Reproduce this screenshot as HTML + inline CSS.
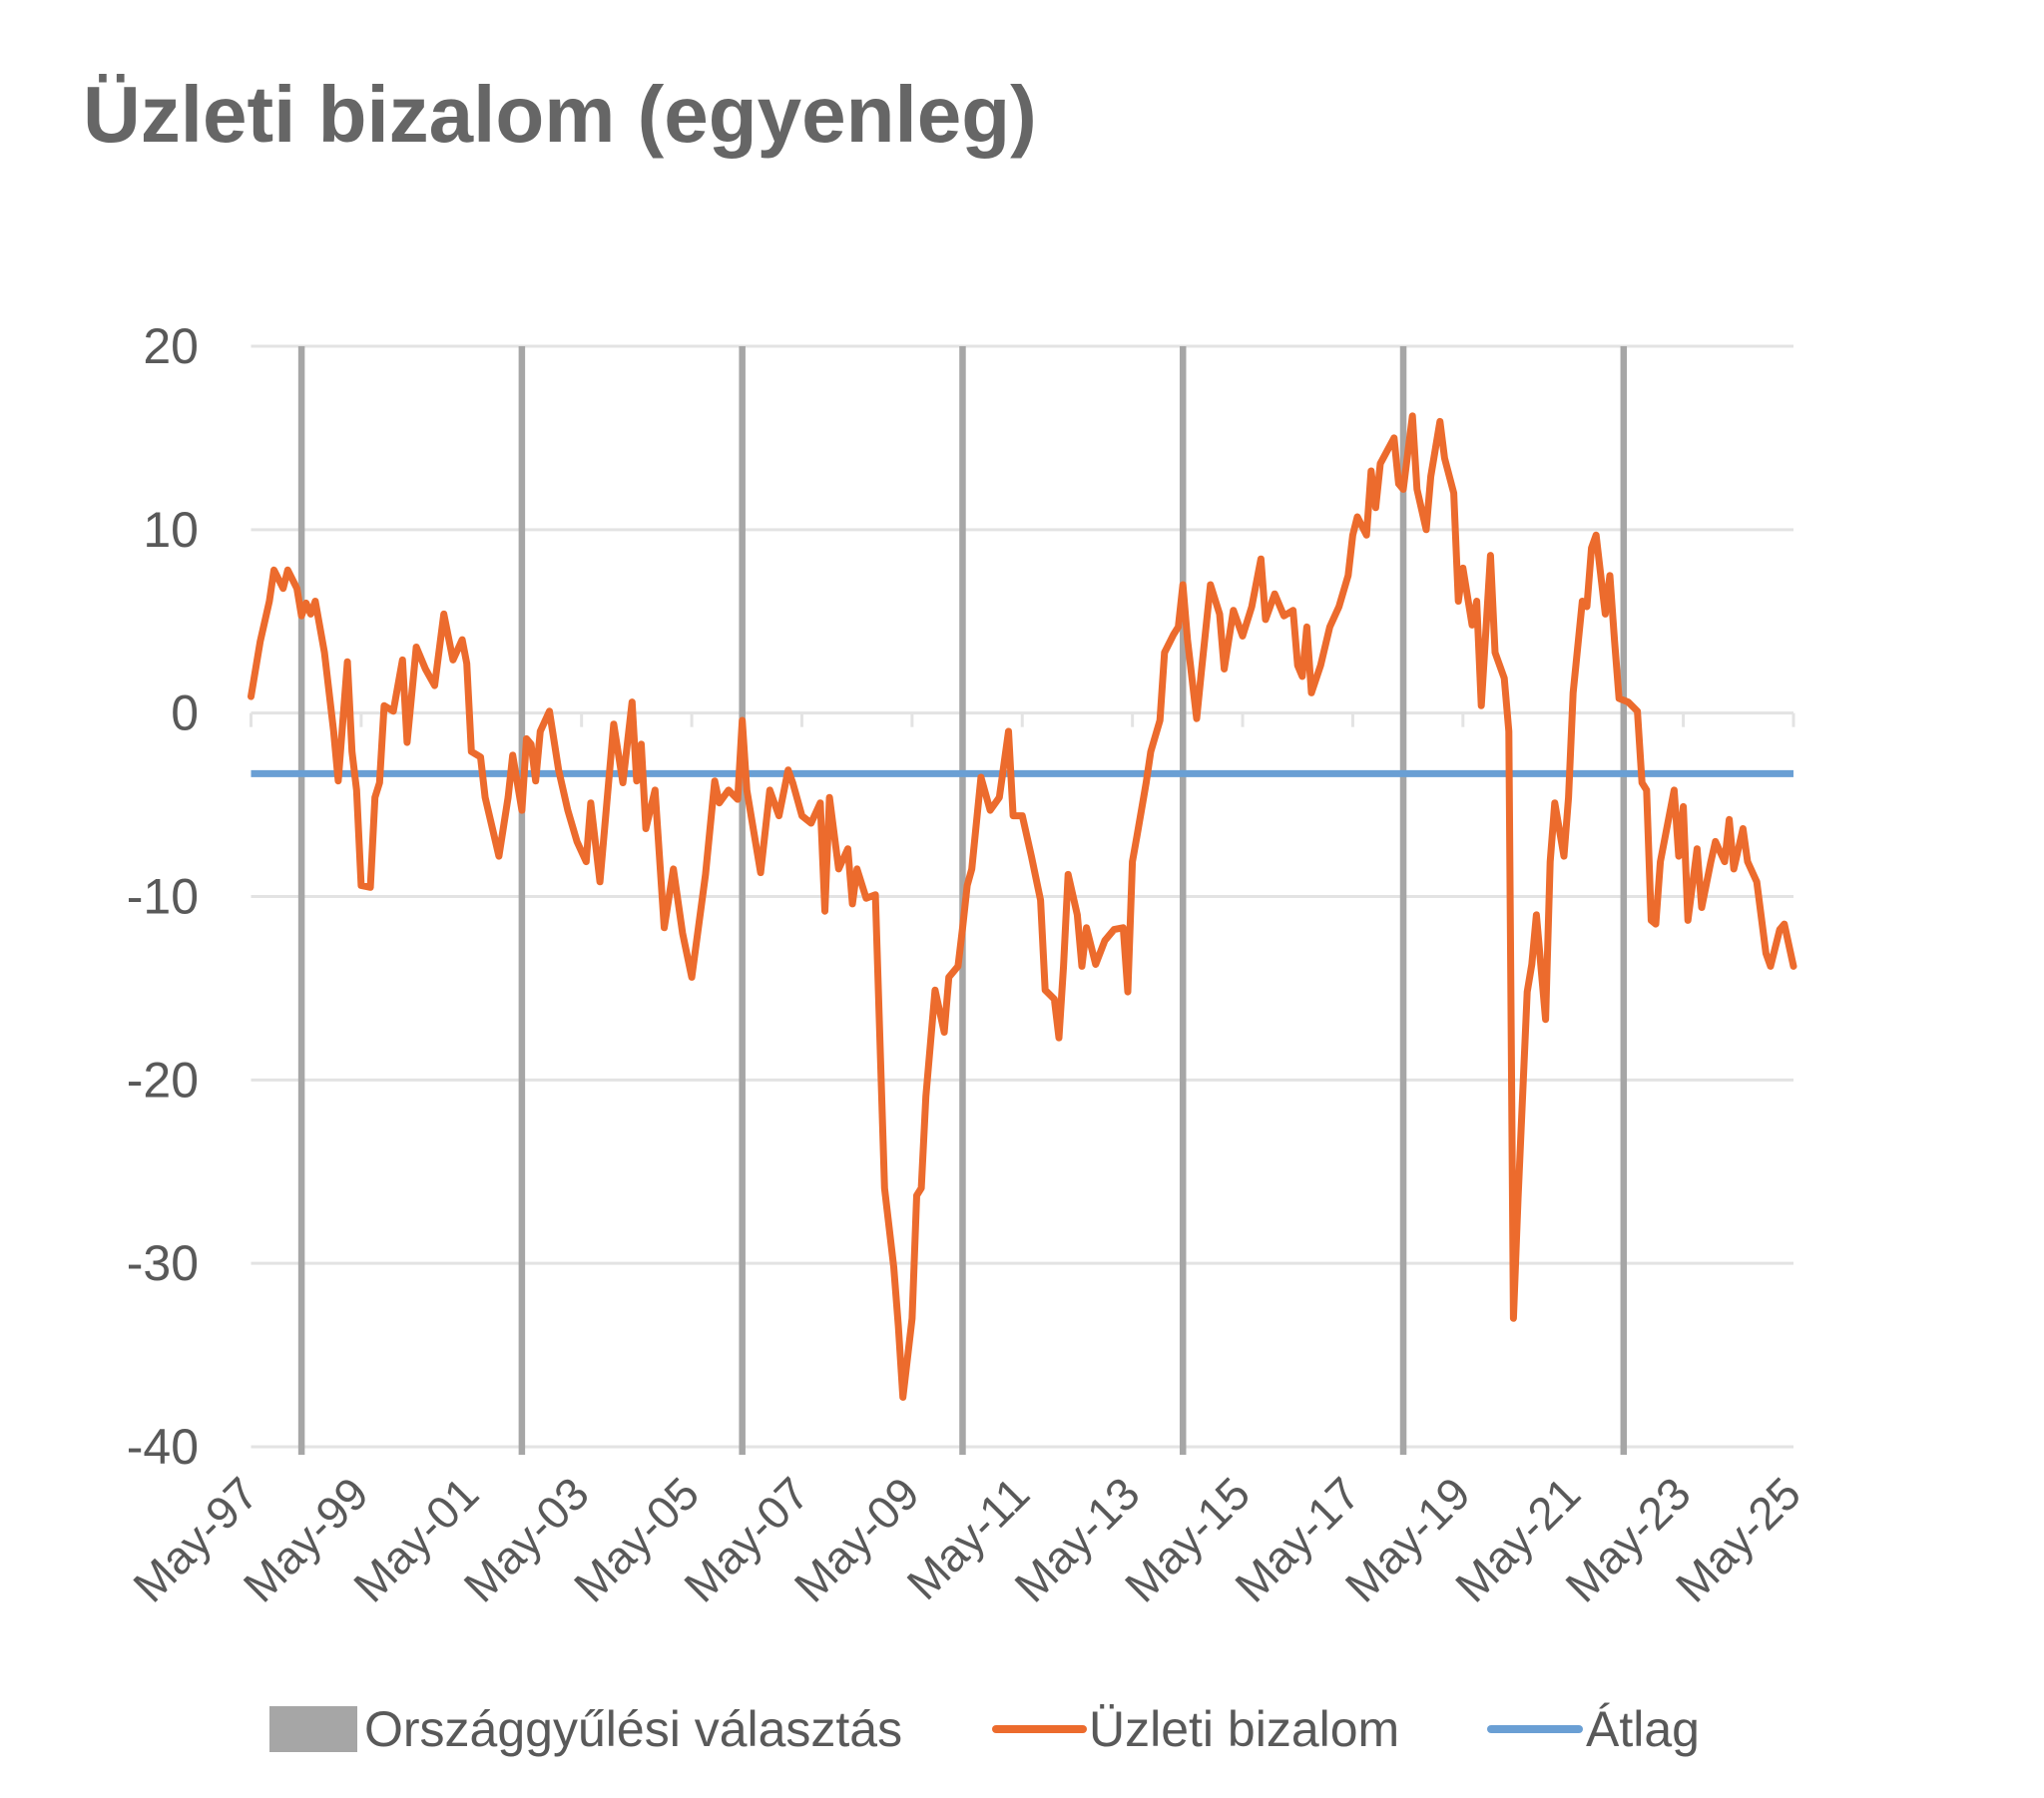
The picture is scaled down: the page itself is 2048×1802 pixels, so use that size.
<!DOCTYPE html>
<html><head><meta charset="utf-8">
<style>
html,body{margin:0;padding:0;background:#fff;}
body{width:2048px;height:1797px;overflow:hidden;font-family:"Liberation Sans","DejaVu Sans",sans-serif;}
</style></head>
<body>
<svg id="chart" width="2048" height="1797" viewBox="0 0 2048 1797" xmlns="http://www.w3.org/2000/svg">
<text x="83" y="142" font-size="80" font-weight="bold" fill="#666666" font-family="Liberation Sans, sans-serif">Üzleti bizalom (egyenleg)</text>
<g id="grid"></g>
<g id="elections"></g>
<g id="yaxis"></g>
<g id="xaxis"></g>
<g id="series"></g>
<g>
  <rect x="270" y="1710" width="88" height="46" fill="#a6a6a6"/>
  <text x="365" y="1750" font-size="50" fill="#595959">Országgyűlési választás</text>
  <line x1="998" y1="1733" x2="1085" y2="1733" stroke="#ec6b2d" stroke-width="8" stroke-linecap="round"/>
  <text x="1091" y="1750" font-size="50" fill="#595959">Üzleti bizalom</text>
  <line x1="1494" y1="1733" x2="1582" y2="1733" stroke="#6a9fd4" stroke-width="8" stroke-linecap="round"/>
  <text x="1589" y="1750" font-size="50" fill="#595959">Átlag</text>
</g>
</svg>
<script>
// months since May-1997
const months = [0,2,4,5,7,8,10,11,12,13,14,16,18,19,21,22,23,24,26,27,28,29,31,33,34,36,38,40,42,44,46,47,48,50,51,54,56,57,59,60,61,62,63,65,67,69,71,73,74,76,79,81,83,84,85,86,88,90,92,94,96,99,101,102,104,106,107,108,111,113,115,117,118,120,122,124,125,126,128,130,131,132,134,136,138,140,141,142,144,145,146,147,149,151,152,154,155,156,157,159,161,163,165,166,168,170,172,173,175,176,177,178,180,181,182,184,186,188,190,191,192,193,195,196,198,199,201,202,203,204,206,207,209,211,212,214,216,218,220,221,223,225,227,228,229,230,231,233,235,237,239,240,241,243,244,245,246,249,250,251,253,254,256,257,259,260,262,263,264,266,267,268,270,271,273,274,275,276,278,279,280,282,283,284,286,287,288,290,291,292,293,295,296,297,298,300,302,303,304,305,306,307,310,311,312,313,315,316,318,319,321,322,323,325,326,328,330,331,333,334,336];
const confidence = [0.9,3.9,6.1,7.8,6.8,7.8,6.8,5.3,6.0,5.4,6.1,3.3,-1.0,-3.7,2.8,-2.1,-4.2,-9.4,-9.5,-4.6,-3.8,0.4,0.1,2.9,-1.6,3.6,2.4,1.5,5.4,2.9,4.0,2.7,-2.1,-2.4,-4.6,-7.8,-4.6,-2.3,-5.3,-1.4,-1.7,-3.7,-1.0,0.1,-3.1,-5.3,-7.0,-8.1,-4.9,-9.2,-0.6,-3.8,0.6,-3.7,-1.7,-6.3,-4.2,-11.7,-8.5,-12.0,-14.4,-8.8,-3.7,-4.9,-4.2,-4.7,-0.4,-4.2,-8.7,-4.2,-5.6,-3.1,-3.8,-5.6,-6.0,-4.9,-10.8,-4.6,-8.5,-7.4,-10.4,-8.5,-10.1,-9.9,-25.9,-30.2,-33.4,-37.3,-33.0,-26.3,-25.9,-20.9,-15.1,-17.4,-14.4,-13.8,-11.7,-9.4,-8.5,-3.5,-5.3,-4.6,-1.0,-5.6,-5.6,-7.8,-10.2,-15.1,-15.6,-17.7,-13.8,-8.8,-11.0,-13.8,-11.7,-13.7,-12.4,-11.8,-11.7,-15.2,-8.1,-6.7,-3.8,-2.1,-0.4,3.3,4.3,4.7,7.0,4.0,-0.3,2.2,7.0,5.4,2.4,5.6,4.2,5.8,8.4,5.1,6.5,5.3,5.6,2.6,2.0,4.7,1.1,2.6,4.7,5.8,7.5,9.7,10.7,9.7,13.2,11.2,13.6,15.0,12.5,12.2,16.2,12.2,10.0,12.9,15.9,13.9,12.0,6.1,7.9,4.8,6.1,0.4,8.6,3.3,1.9,-1.0,-33.0,-26.5,-15.2,-13.7,-11.0,-16.7,-8.1,-4.9,-7.8,-4.6,1.1,6.1,5.8,9.0,9.7,5.4,7.5,4.0,0.8,0.6,0.1,-3.8,-4.2,-11.3,-11.5,-8.1,-4.2,-7.8,-5.1,-11.3,-7.4,-10.6,-8.1,-7.0,-8.1,-5.8,-8.5,-6.3,-8.1,-9.2,-13.1,-13.8,-11.8,-11.5,-13.8];
const average = [-3.3];
const electionMonths = [11,59,107,155,203,251,299];
const yTicks = [20,10,0,-10,-20,-30,-40];
const xTickLabels = ["May-97","May-99","May-01","May-03","May-05","May-07","May-09","May-11","May-13","May-15","May-17","May-19","May-21","May-23","May-25"];

const NS="http://www.w3.org/2000/svg";
const X0=251.5, X1=1797, Y20=347, YM40=1450, MMAX=336;
function xs(m){return X0+m*(X1-X0)/MMAX;}
function ys(v){return Y20+(20-v)*(YM40-Y20)/60;}
function mk(tag,attrs,parent){const e=document.createElementNS(NS,tag);for(const k in attrs)e.setAttribute(k,attrs[k]);parent.appendChild(e);return e;}

const grid=document.getElementById('grid'), yax=document.getElementById('yaxis'), xax=document.getElementById('xaxis'), el=document.getElementById('elections'), ser=document.getElementById('series');
yTicks.forEach(v=>{
  const l=mk('line',{x1:X0,x2:X1,y1:ys(v),y2:ys(v),stroke:'#e3e3e3','stroke-width':3},grid);
  
  
  const t=mk('text',{x:199,y:ys(v)+17,'text-anchor':'end','font-size':50,fill:'#595959'},yax);
  
  
  t.textContent=String(v);
});
xTickLabels.forEach((s,i)=>{
  const x=xs(i*24);
  const tk=mk('line',{x1:x,x2:x,y1:ys(0),y2:ys(0)+14,stroke:'#e3e3e3','stroke-width':3},grid);
  
  
  const t=mk('text',{x:x+10,y:1500,'text-anchor':'end','font-size':46,fill:'#595959',transform:'rotate(-45 '+(x+10)+' 1500)'},xax);
  
  
  t.textContent=s;
});
electionMonths.forEach(m=>{
  const l=mk('line',{x1:xs(m),x2:xs(m),y1:Y20,y2:YM40+8,stroke:'#a6a6a6','stroke-width':6.5},el);
  
  
});
const avg=mk('line',{x1:X0,x2:X1,y1:ys(average[0]),y2:ys(average[0]),stroke:'#6a9fd4','stroke-width':7},ser);


const d=months.map((m,i)=>(i?'L':'M')+xs(m).toFixed(1)+' '+ys(confidence[i]).toFixed(1)).join(' ');
const p=mk('path',{d:d,fill:'none',stroke:'#ec6b2d','stroke-width':7,'stroke-linejoin':'round','stroke-linecap':'round'},ser);


</script>
</body></html>
